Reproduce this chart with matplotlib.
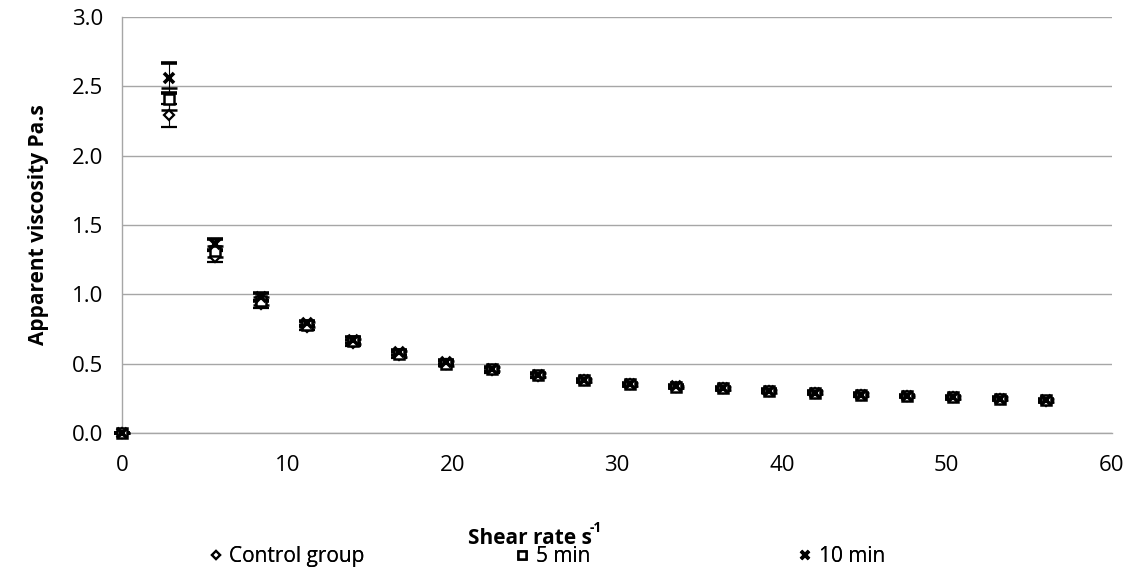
import numpy as np
import matplotlib.pyplot as plt

plt.rcParams['font.family'] = ['Open Sans', 'DejaVu Sans']

shear = [0, 2.8, 5.6, 8.4, 11.2, 14.0, 16.8, 19.6, 22.4, 25.2, 28.0,
         30.8, 33.6, 36.4, 39.2, 42.0, 44.8, 47.6, 50.4, 53.2, 56.0]
control = [0, 2.29, 1.27, 0.93, 0.76, 0.65, 0.56, 0.50, 0.45, 0.41, 0.38,
           0.35, 0.33, 0.32, 0.30, 0.29, 0.27, 0.265, 0.255, 0.245, 0.233]
min5 = [0, 2.41, 1.31, 0.95, 0.78, 0.66, 0.57, 0.50, 0.46, 0.42, 0.38,
        0.35, 0.33, 0.32, 0.30, 0.29, 0.275, 0.265, 0.255, 0.245, 0.235]
min10 = [0, 2.56, 1.36, 0.98, 0.79, 0.67, 0.58, 0.51, 0.46, 0.42, 0.38,
         0.35, 0.335, 0.32, 0.305, 0.29, 0.275, 0.265, 0.255, 0.245, 0.235]
err_control = [0, 0.08, 0.04, 0.03, 0.02, 0.02, 0.02, 0.015, 0.015, 0.015, 0.01,
               0.01, 0.01, 0.01, 0.01, 0.01, 0.01, 0.01, 0.01, 0.01, 0.01]
err_5 = [0, 0.08, 0.04, 0.03, 0.02, 0.02, 0.02, 0.015, 0.015, 0.015, 0.01,
         0.01, 0.01, 0.01, 0.01, 0.01, 0.01, 0.01, 0.01, 0.01, 0.01]
err_10 = [0, 0.11, 0.04, 0.03, 0.02, 0.02, 0.02, 0.015, 0.015, 0.015, 0.01,
          0.01, 0.01, 0.01, 0.01, 0.01, 0.01, 0.01, 0.01, 0.01, 0.01]
labels = ['Control group', '5 min', '10 min']

fig = plt.figure(figsize=(11.28, 5.68), dpi=100)
ax = fig.add_axes([0.1085, 0.238, 0.877, 0.732])

styles = [dict(marker='D', ms=5, mfc='white', mec='black', mew=1.6),
          dict(marker='s', ms=7, mfc='white', mec='black', mew=1.8),
          dict(marker='x', ms=7, mec='black', mew=2.6)]
handles = []
for y, e, st in zip([control, min5, min10], [err_control, err_5, err_10], styles):
    h = ax.errorbar(shear, y, yerr=e, ls='none', ecolor='black', elinewidth=0.8,
                    capsize=6, capthick=0.8, zorder=3, clip_on=False, **st)
    handles.append(h)

ax.set_xlim(0, 60)
ax.set_ylim(0, 3.0)
ax.set_xticks(np.arange(0, 61, 10))
ax.set_yticks(np.arange(0, 3.01, 0.5))
ax.set_yticklabels([f'{v:.1f}' for v in np.arange(0, 3.01, 0.5)])
ax.tick_params(length=0, labelsize=16, pad=14, colors='black')
ax.tick_params(axis='x', pad=16)
ax.yaxis.grid(True, color='#a6a6a6', lw=1)
ax.set_axisbelow(True)
for s in ['top', 'right']:
    ax.spines[s].set_visible(False)
for s in ['left', 'bottom']:
    ax.spines[s].set_color('#a6a6a6')
    ax.spines[s].set_linewidth(1)

ax.set_ylabel('Apparent viscosity Pa.s', fontsize=15, fontweight='bold', labelpad=16)
fig.text(0.47, 0.042, 'Shear rate s', fontsize=15, fontweight='bold', ha='center')
fig.text(0.523, 0.064, '-1', fontsize=10, fontweight='bold', ha='left')

for h, lab, xp in zip(handles, labels, [0.168, 0.44, 0.691]):
    leg = fig.legend([h[0]], [lab], loc='lower left', bbox_to_anchor=(xp, -0.032),
                     frameon=False, fontsize=15, handlelength=0.7, handletextpad=0.3,
                     markerscale=0.75)
    fig.add_artist(leg)

fig.savefig('out.png', dpi=100)
